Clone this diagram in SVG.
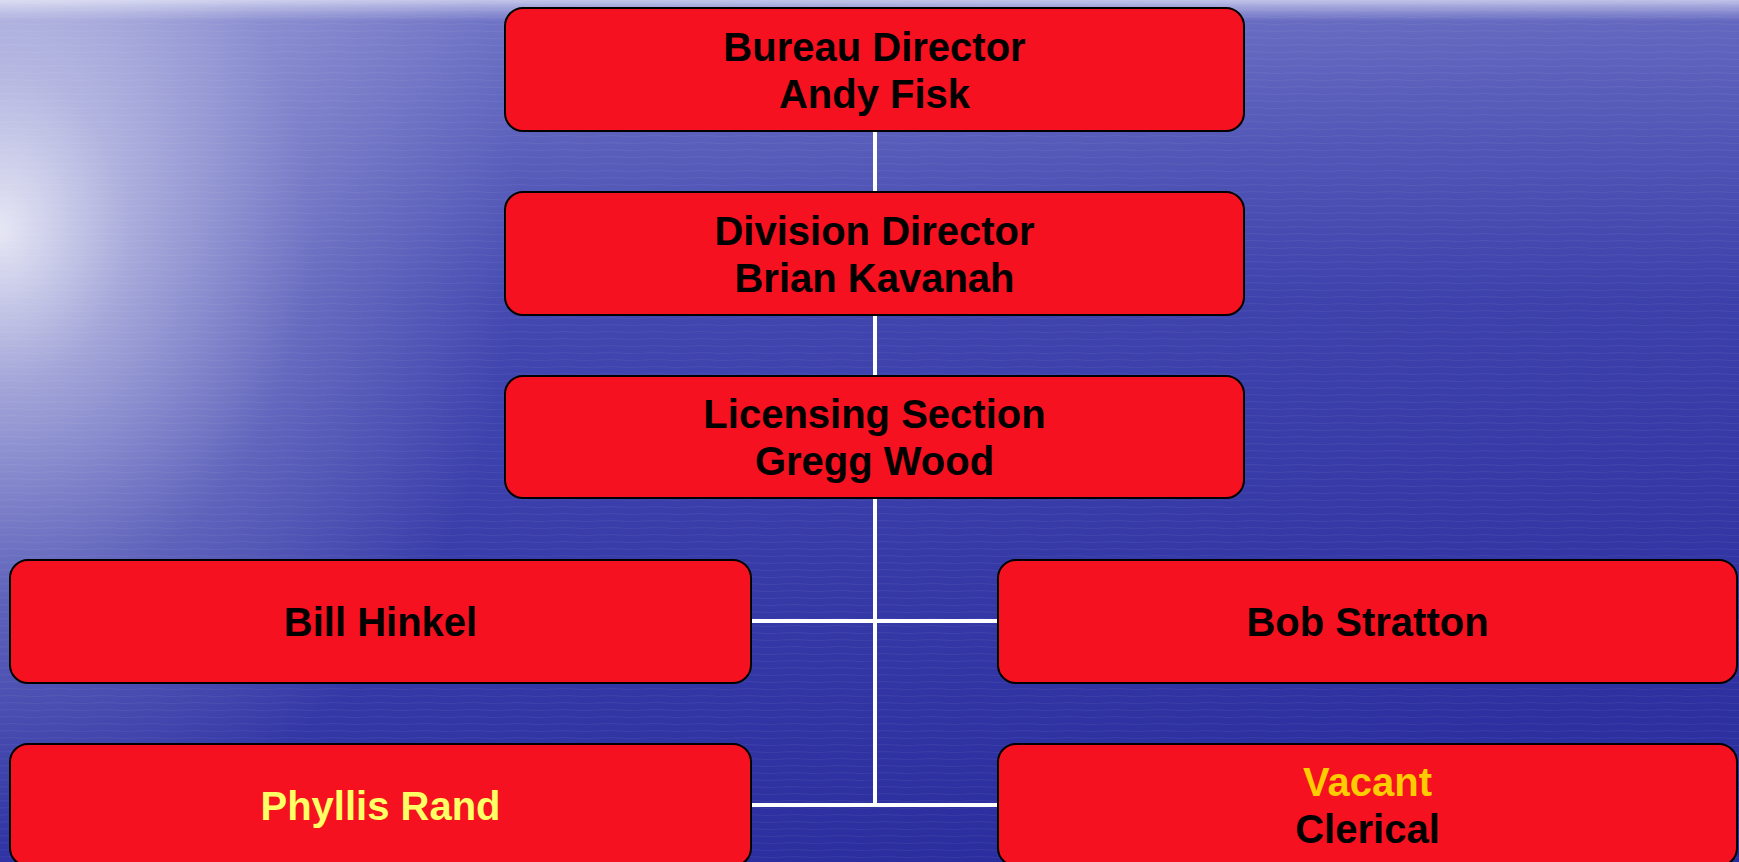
<svg xmlns="http://www.w3.org/2000/svg" width="1739" height="862" viewBox="0 0 1739 862">
<style>
.box{fill:#F5111F;stroke:#000;stroke-width:2}
.t{font-family:"Liberation Sans",Arial,sans-serif;font-weight:bold;font-size:40px;text-anchor:middle;fill:#000}
.conn{stroke:#fff;stroke-width:4;fill:none}
</style>
<defs>
<linearGradient id="bgBase" x1="0" y1="0" x2="0.6" y2="1">
<stop offset="0" stop-color="#5257B8"/>
<stop offset="0.45" stop-color="#363BAA"/>
<stop offset="1" stop-color="#2A2D9E"/>
</linearGradient>
<radialGradient id="glow" cx="0" cy="0" r="1" gradientUnits="userSpaceOnUse" gradientTransform="translate(0 230) scale(520 620)">
<stop offset="0" stop-color="#fff" stop-opacity="0.85"/>
<stop offset="0.25" stop-color="#fff" stop-opacity="0.5"/>
<stop offset="0.6" stop-color="#fff" stop-opacity="0.18"/>
<stop offset="1" stop-color="#fff" stop-opacity="0"/>
</radialGradient>
<linearGradient id="top" x1="0" y1="0" x2="0" y2="1">
<stop offset="0" stop-color="#D8DAF2" stop-opacity="0.85"/>
<stop offset="0.025" stop-color="#B8BAE6" stop-opacity="0.35"/>
<stop offset="0.35" stop-color="#A0A4DC" stop-opacity="0.1"/>
<stop offset="1" stop-color="#A0A4DC" stop-opacity="0"/>
</linearGradient>
<pattern id="ripple" width="46" height="7" patternUnits="userSpaceOnUse">
<path d="M0 3 Q11.5 2 23 3 T46 3" stroke="#fff" stroke-opacity="0.05" stroke-width="1.2" fill="none"/>
</pattern>
</defs>
<g id="background">
<rect width="1739" height="862" fill="url(#bgBase)"/>
<rect width="1739" height="862" fill="url(#top)"/>
<rect width="1739" height="862" fill="url(#glow)"/>
<rect width="1739" height="862" fill="url(#ripple)"/>
</g>
<g id="connectors">
<line class="conn" x1="875" y1="131" x2="875" y2="807"/>
<line class="conn" x1="751" y1="621" x2="998" y2="621"/>
<line class="conn" x1="751" y1="805" x2="998" y2="805"/>
</g>
<g id="bureau-director">
<rect class="box" x="505" y="8" width="739" height="123" rx="18"/>
<text class="t" x="874.5" y="61">Bureau Director</text>
<text class="t" x="874.5" y="108">Andy Fisk</text>
</g>
<g id="division-director">
<rect class="box" x="505" y="192" width="739" height="123" rx="18"/>
<text class="t" x="874.5" y="245">Division Director</text>
<text class="t" x="874.5" y="292">Brian Kavanah</text>
</g>
<g id="licensing-section">
<rect class="box" x="505" y="376" width="739" height="122" rx="18"/>
<text class="t" x="874.5" y="428">Licensing Section</text>
<text class="t" x="874.5" y="475">Gregg Wood</text>
</g>
<g id="bill-hinkel">
<rect class="box" x="10" y="560" width="741" height="123" rx="18"/>
<text class="t" x="380.5" y="636">Bill Hinkel</text>
</g>
<g id="bob-stratton">
<rect class="box" x="998" y="560" width="739" height="123" rx="18"/>
<text class="t" x="1367.5" y="636">Bob Stratton</text>
</g>
<g id="phyllis-rand">
<rect class="box" x="10" y="744" width="741" height="122" rx="18"/>
<text class="t" x="380.5" y="820" style="fill:#FFFF66">Phyllis Rand</text>
</g>
<g id="vacant-clerical">
<rect class="box" x="998" y="744" width="739" height="122" rx="18"/>
<text class="t" x="1367.5" y="796" style="fill:#FFCC00">Vacant</text>
<text class="t" x="1367.5" y="843">Clerical</text>
</g>
</svg>
